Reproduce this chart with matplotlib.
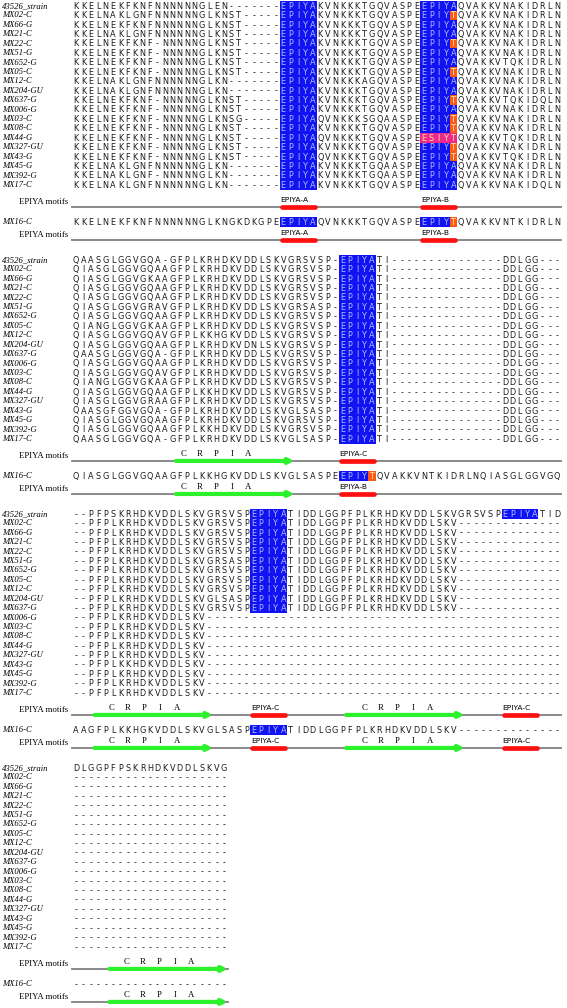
import numpy as np
import matplotlib.pyplot as plt
from matplotlib.patches import Rectangle

# strain names (same order in every block)
strains = ['43526_strain', 'MX02-C', 'MX66-G', 'MX21-C', 'MX22-C', 'MX51-G',
           'MX652-G', 'MX05-C', 'MX12-C', 'MX204-GU', 'MX637-G', 'MX006-G',
           'MX03-C', 'MX08-C', 'MX44-G', 'MX327-GU', 'MX43-G', 'MX45-G',
           'MX392-G', 'MX17-C']

block1 = [
    'KKELNEKFKNFNNNNNNGLEN-------EPIYAKVNKKKTGQVASPEEPIYAQVAKKVNAKIDRLN',
    'KKELNAKLGNFNNNNNNGLKNST-----EPIYAKVNKKKTGQVASPEEPIYTQVAKKVNAKIDRLN',
    'KKELNEKFKNFNNNNNNGLKNST-----EPIYAKVNKKKTGQVASPEEPIYAQVAKKVNAKIDRLN',
    'KKELNAKLGNFNNNNNNGLKNST-----EPIYAKVNKKKTGQVASPEEPIYAQVAKKVNAKIDRLN',
    'KKELNEKFKNF-NNNNNGLKNST-----EPIYAKVNKKKTGQVASPEEPIYTQVAKKVNAKIDRLN',
    'KKELNEKFKNF-NNNNNGLKNST-----EPIYAKVNKKKTGQVASPEEPIYAQVAKKVNAKIDRLN',
    'KKELNEKFKNF-NNNNNGLKNST-----EPIYAKVNKKKTGQVASPEEPIYAQVAKKVTQKIDRLN',
    'KKELNEKFKNF-NNNNNGLKNST-----EPIYAKVNKKKTGQVASPEEPIYTQVAKKVNAKIDRLN',
    'KKELNAKLGNFNNNNNNGLKN-------EPIYAKVNKKKAGQVASPEEPIYAQVAKKVNAKIDRLN',
    'KKELNAKLGNFNNNNNNGLKN-------EPIYAKVNKKKTGQVASPEEPIYAQVAKKVNAKIDRLN',
    'KKELNEKFKNF-NNNNNGLKNST-----EPIYAKVNKKKTGQVASPEEPIYTQVAKKVTQKIDQLN',
    'KKELNEKFKNF-NNNNNGLKNST-----EPIYAKVNKKKTGQVASPEEPIYAQVAKKVNAKIDRLN',
    'KKELNEKFKNF-NNNNNGLKNSG-----EPIYAQVNKKKSGQAASPEEPIYTQVAKKVNAKIDRLN',
    'KKELNEKFKNF-NNNNNGLKNST-----EPIYAKVNKKKTGQVASPEEPIYTQVAKKVNAKIDRLN',
    'KKELNEKFKNF-NNNNNGLKNST-----EPIYAQVNKKKTGQVASPEESIYTQVAKKVTQKIDRLN',
    'KKELNEKFKNF-NNNNNGLKNST-----EPIYAKVNKKKTGQVASPEEPIYTQVAKKVNAKIDRLN',
    'KKELNEKFKNF-NNNNNGLKNST-----EPIYAQVNKKKTGQVASPEEPIYTQVAKKVTQKIDRLN',
    'KKELNAKLGNFNNNNNNGLKN-------EPIYAKVNKKKTGQAASPEEPIYAQVAKKVNAKIDRLN',
    'KKELNAKLGNF-NNNNNGLKN-------EPIYAKVNKKKTGQAASPEEPIYAQVAKKVNAKIDRLN',
    'KKELNAKLGNFNNNNNNGLKN-------EPIYAKVNKKKTGQVASPEEPIYAQVAKKVNAKIDQLN',
]

tail2 = 'TI---------------DDLGG---'
block2 = [
    'QAASGLGGVGQA-GFPLKRHDKVDDLSKVGRSVSP-EPIYA' + tail2,
    'QIASGLGGVGQAAGFPLKRHDKVDDLSKVGRSVSP-EPIYA' + tail2,
    'QIASGLGGVGKAAGFPLKRHDKVDDLSKVGRSVSP-EPIYA' + tail2,
    'QIASGLGGVGQAAGFPLKRHDKVDDLSKVGRSVSP-EPIYA' + tail2,
    'QIASGLGGVGQAAGFPLKRHDKVDDLSKVGRSVSP-EPIYA' + tail2,
    'QIASGLGGVGRAVGFPLKRHDKVDDLSKVGRSASP-EPIYA' + tail2,
    'QIASGLGGVGQAAGFPLKRHDKVDDLSKVGRSVSP-EPIYA' + tail2,
    'QIANGLGGVGKAAGFPLKRHDKVDDLSKVGRSVSP-EPIYA' + tail2,
    'QIASGLGGVGQAVGFPLKKHGKVDDLSKVGRSVSP-EPIYA' + tail2,
    'QIASGLGGVGQAAGFPLKRHDKVDNLSKVGRSVSP-EPIYA' + tail2,
    'QAASGLGGVGQA-GFPLKRHDKVDDLSKVGRSVSP-EPIYA' + tail2,
    'QIASGLGGVGQAAGFPLKRHDKVDDLSKVGRSVSP-EPIYA' + tail2,
    'QIASGLGGVGQAVGFPLKRHDKVDDLSKVGRSVSP-EPIYA' + tail2,
    'QIANGLGGVGKAAGFPLKRHDKVDDLSKVGRSVSP-EPIYA' + tail2,
    'QIASGLGGVGQAAGFPLKKHDKVDDLSKVGRSVSP-EPIYA' + tail2,
    'QIASGLGGVGRAAGFPLKRHDKVDDLSKVGRSVSP-EPIYA' + tail2,
    'QAASGFGGVGQA-GFPLKRHDKVDDLSKVGLSASP-EPIYA' + tail2,
    'QIASGLGGVGQAAGFPLKRHDKVDDLSKVGRSVSP-EPIYA' + tail2,
    'QIASGLGGVGQAAGFPLKKHDKVDDLSKVGRSVSP-EPIYA' + tail2,
    'QAASGLGGVGQA-GFPLKRHDKVDDLSKVGLSASP-EPIYA' + tail2,
]

tail3 = 'TIDDLGGPFPLKRHDKVDDLSKV--------------'
short3 = '--PFPLKRHDKVDDLSKV------------------------------------------------'
block3 = [
    '--PFPSKRHDKVDDLSKVGRSVSPEPIYATIDDLGGPFPLKRHDKVDDLSKVGRSVSPEPIYATID',
    '--PFPLKRHDKVDDLSKVGRSVSPEPIYA' + tail3,
    '--PFPLKRHDKVDDLSKVGRSVSPEPIYA' + tail3,
    '--PFPLKRHDKVDDLSKVGRSVSPEPIYA' + tail3,
    '--PFPLKRHDKVDDLSKVGRSVSPEPIYA' + tail3,
    '--PFPLKRHDKVDDLSKVGRSASPEPIYA' + tail3,
    '--PFPLKRHDKVDDLSKVGRSVSPEPIYA' + tail3,
    '--PFPLKRHDKVDDLSKVGRSVSPEPIYA' + tail3,
    '--PFPLKRHDKVDDLSKVGRSVSPEPIYA' + tail3,
    '--PFPLKRHDKVDDLSKVGLSASPEPIYA' + tail3,
    '--PFPLKRHDKVDDLSKVGRSVSPEPIYA' + tail3,
    short3, short3, short3, short3, short3,
    '--PFPLKKHDKVDDLSKV------------------------------------------------',
    short3, short3, short3,
]

block4 = ['DLGGPFPSKRHDKVDDLSKVG'] + ['-' * 21] * 19

mx16 = [
    'KKELNEKFKNFNNNNNNGLKNGKDKGPEEPIYAQVNKKKTGQVASPEEPIYTQVAKKVNTKIDRLN',
    'QIASGLGGVGQAAGFPLKKHGKVDDLSKVGLSASPEEPIYTQVAKKVNTKIDRLNQIASGLGGVGQ',
    'AAGFPLKKHGKVDDLSKVGLSASPEPIYA' + tail3,
    '-' * 21,
]

# motif features in column units: (kind, first col, last col, label / letter offset)
feat1 = [('red', 28, 32, 'EPIYA-A'), ('red', 47, 51, 'EPIYA-B')]
feat2 = [('green', 14, 29, 0.5), ('red', 36, 40, 'EPIYA-C')]
feat2_mx16 = [('green', 14, 29, 0.5), ('red', 36, 40, 'EPIYA-B')]
feat3 = [('green', 3, 18, 1.8), ('red', 24, 28, 'EPIYA-C'),
         ('green', 37, 52, 2.0), ('red', 58, 62, 'EPIYA-C')]
feat4 = [('green', 5, 20, 1.8)]

blocks = [block1, block2, block3, block4]
feats = [(feat1, feat1), (feat2, feat2_mx16), (feat3, feat3), (feat4, feat4)]

# layout (pixels)
X0, CW, RS = 76.0, 7.4, 9.42
BLUE, ORANGE, PINK = '#1212f2', '#ff5a14', '#f0288c'

fig = plt.figure(figsize=(5.67, 10.08), dpi=100)
ax = fig.add_axes([0, 0, 1, 1])
ax.set_xlim(0, 567)
ax.set_ylim(1008, 0)
ax.axis('off')


def colours(seq):
    out = {}
    for i in range(len(seq) - 4):
        if seq[i:i + 4] == 'EPIY' and seq[i + 4] in 'AT':
            for k in range(4):
                out[i + k] = (BLUE, '#a8c4ff')
            out[i + 4] = (BLUE, '#a8c4ff') if seq[i + 4] == 'A' else (ORANGE, '#ffe8b8')
        if seq[i:i + 5] == 'ESIYT':
            for k in range(5):
                out[i + k] = (PINK, '#ffe8a0')
    return out


def draw_row(y, name, seq):
    ax.text(2, y, name, fontsize=6.2, family='Liberation Serif', style='italic',
            va='center', ha='left')
    cols = colours(seq)
    for c, ch in enumerate(seq):
        x = X0 + c * CW
        tc = '#1a1a1a'
        if c in cols:
            fc, tc = cols[c]
            ax.add_patch(Rectangle((x - CW / 2, y - RS / 2), CW, RS, fc=fc, ec='none', zorder=1))
        ax.text(x, y + 0.3, ch, fontsize=5.9, family='DejaVu Sans', color=tc,
                ha='center', va='center', zorder=2)


def draw_track(y, ncol, feat):
    left = X0 - CW / 2
    ax.text(68, y - 4.5, 'EPIYA motifs', fontsize=6.3, family='Liberation Serif',
            ha='right', va='center')
    ax.plot([left, left + ncol * CW], [y, y], color='#808080', lw=1.3, zorder=1)
    for kind, a, b, extra in feat:
        xa = left + a * CW
        xb = left + (b + 1) * CW
        if kind == 'red':
            ax.plot([xa + 2, xb - 2], [y, y], color='#ff1010', lw=3.4,
                    solid_capstyle='round', zorder=2)
            ax.text(xa + 1, y - 7, extra, fontsize=5.4, family='DejaVu Sans',
                    ha='left', va='center')
        else:
            ax.annotate('', xy=(xb, y), xytext=(xa, y),
                        arrowprops=dict(arrowstyle='-|>', color='#2cf22c', lw=3.0,
                                        mutation_scale=7, shrinkA=0, shrinkB=0),
                        zorder=2)
            for k, letter in enumerate('CRPIA'):
                ax.text(X0 + (a + extra + 2.2 * k) * CW, y - 7, letter, fontsize=6.3,
                        family='Liberation Serif', ha='center', va='center')


y0 = 6.0
for bi, block in enumerate(blocks):
    for r, (name, seq) in enumerate(zip(strains, block)):
        draw_row(y0 + r * RS, name, seq)
    ncol = len(block[0])
    yt = y0 + (len(block) - 1) * RS + 22
    draw_track(yt, ncol, feats[bi][0])
    ym = yt + 15
    draw_row(ym, 'MX16-C', mx16[bi])
    yt2 = ym + 18
    draw_track(yt2, ncol, feats[bi][1])
    y0 = yt2 + 20

fig.savefig('out.png', dpi=100)
